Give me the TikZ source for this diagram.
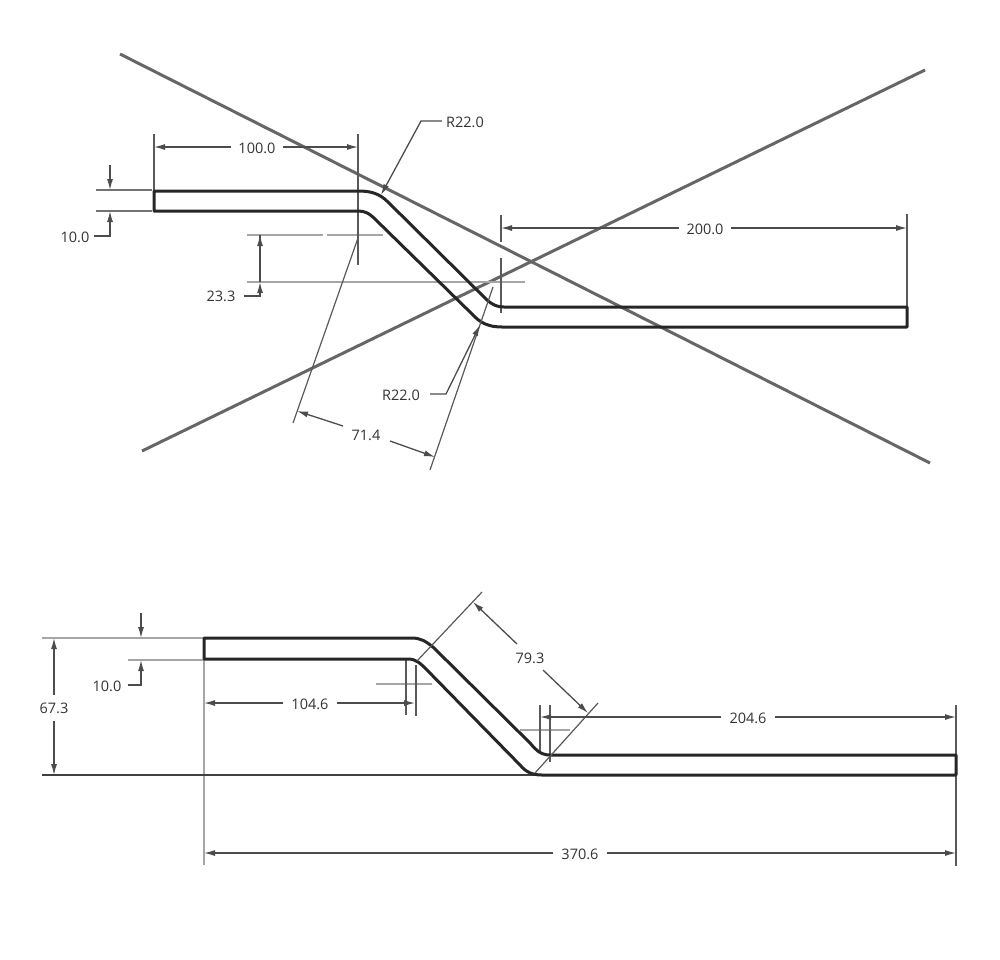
\documentclass[tikz,border=0pt]{standalone}
\usepackage{fontspec}
\setmainfont{Open Sans}
\usetikzlibrary{arrows.meta}
\tikzset{
  part/.style={draw=black!85,line width=3pt,line join=round},
  refline/.style={draw=black!60,line width=3pt},
  dim/.style={draw=black!70,line width=1.3pt},
  ext/.style={draw=black!65,line width=1.2pt},
  lightline/.style={draw=black!35,line width=1.5pt},
  arr/.style={-{Latex[length=11pt,width=6pt]}},
  lab/.style={font=\fontsize{14.5}{16}\selectfont,text=black!80,inner sep=0pt}
}
\begin{document}
\begin{tikzpicture}[x=1pt,y=-1pt]
\useasboundingbox (0,0) rectangle (1000,959);
% reference lines
\coordinate (ra) at (120,54); \coordinate (rb) at (930,463);
\coordinate (rc) at (142,451); \coordinate (rd) at (925,70);
\draw[refline] (ra) -- (rb);
\draw[refline] (rc) -- (rd);
% light construction lines, upper view
\draw[lightline] (247,235) -- (323,235) (327,235) -- (383,235);
\draw[lightline] (247,282) -- (525,282);
\draw[ext] (501,215) -- (501,242) (501,258) -- (501,313);
% extension lines
\draw[ext] (154,134) -- (154,191) (358,134) -- (358,265);
\draw[ext] (907,214) -- (907,307);
% upper part
\draw[part] (154,191) -- (358,191) .. controls (370,191) and (379,193) .. (388,202)
  -- (487,300) .. controls (493,305) and (497,307) .. (504,307) -- (907,307) -- (907,327)
  -- (502,327) .. controls (490,327) and (481,324) .. (472,314)
  -- (376,220) .. controls (369,213) and (365,211) .. (358,211) -- (154,211) -- cycle;
% 100.0
\node[lab] (t100) at (257,148) {100.0};
\coordinate (a1) at (154,147); \coordinate (a2) at (358,147);
\draw[dim,arr] (t100.west) ++(-7,-1) -- (a1);
\draw[dim,arr] (t100.east) ++(7,-1) -- (a2);
% R22.0 upper
\node[lab] (r1) at (465,122) {R22.0};
\coordinate (r1k) at (421,121); \coordinate (r1t) at (381,195);
\draw[dim,arr] (r1.west) ++(-4,-1) -- (r1k) -- (r1t);
% 10.0 upper
\node[lab] (t10a) at (75,237) {10.0};
\draw[lightline,draw=black!55] (96,190) -- (152,190) (96,211) -- (152,211);
\draw[dim,arr] (110,165) -- (110,190);
\draw[dim,arr] (t10a.east) ++(4,-1) -- (110,236) -- (110,211);
% 23.3
\node[lab] (t23) at (221,296) {23.3};
\draw[dim,arr] (260,260) -- (260,235);
\draw[dim,arr] (t23.east) ++(8,0) -- (260,296) -- (260,282);
\draw[dim] (260,235) -- (260,282);
% 200.0
\node[lab] (t200) at (705,229) {200.0};
\draw[dim,arr] (t200.west) ++(-7,-1) -- (501,228);
\draw[dim,arr] (t200.east) ++(7,-1) -- (907,228);
% 71.4
\node[lab] (t71) at (366,435) {71.4};
\draw[ext] (358,238) -- (293,423);
\draw[ext] (493,287) -- (430,470);
\draw[dim,arr] (343,426) -- (297,411);
\draw[dim,arr] (390,441) -- (435,457);
% R22.0 lower
\node[lab] (r2) at (401,395) {R22.0};
\draw[dim,arr] (r2.east) ++(10,-1) -- (446,394) -- (480,325);
%
% lower view
\draw[lightline] (204,638) -- (42,638) (204,660) -- (128,660);
\draw[lightline] (204,659) -- (204,865);
\draw[lightline] (376,684) -- (432,684);
\draw[lightline] (520,730) -- (570,730);
\draw[dim,draw=black!75] (42,775) -- (540,775);
\draw[ext] (406,660) -- (406,715) (416,665) -- (416,716);
\draw[ext] (540,705) -- (540,752) (550,705) -- (550,762);
\draw[ext] (956,705) -- (956,866);
% lower part
\draw[part] (204,638) -- (412,638) .. controls (420,638) and (426,641) .. (434,648)
  -- (530,743) .. controls (535,749) and (540,755) .. (550,755) -- (956,755) -- (956,775)
  -- (542,775) .. controls (532,775) and (526,772) .. (520,765)
  -- (427,670) .. controls (420,663) and (416,659) .. (408,659) -- (204,659) -- cycle;
% 10.0 lower
\node[lab] (t10b) at (107,686) {10.0};
\draw[dim,arr] (141,613) -- (141,638);
\draw[dim,arr] (t10b.east) ++(6,-1) -- (141,685) -- (141,660);
% 67.3
\node[lab] (t67) at (54,708) {67.3};
\draw[dim,arr] (54,695) -- (54,638);
\draw[dim,arr] (54,721) -- (54,775);
% 104.6
\node[lab] (t104) at (310,704) {104.6};
\draw[dim,arr] (t104.west) ++(-8,-1) -- (204,703);
\draw[dim,arr] (t104.east) ++(8,-1) -- (415,703);
% 79.3
\node[lab] (t79) at (530,658) {79.3};
\draw[ext] (482,592) -- (417,661);
\draw[ext] (598,703) -- (535,773);
\draw[dim,arr] (517,644) -- (473,602);
\draw[dim,arr] (543,670) -- (588,713);
% 204.6
\node[lab] (t204) at (748,718) {204.6};
\draw[dim,arr] (t204.west) ++(-8,-1) -- (540,717);
\draw[dim,arr] (t204.east) ++(8,-1) -- (956,717);
% 370.6
\node[lab] (t370) at (580,854) {370.6};
\draw[dim,arr] (t370.west) ++(-8,-1) -- (204,853);
\draw[dim,arr] (t370.east) ++(8,-1) -- (956,853);
\end{tikzpicture}
\end{document}
